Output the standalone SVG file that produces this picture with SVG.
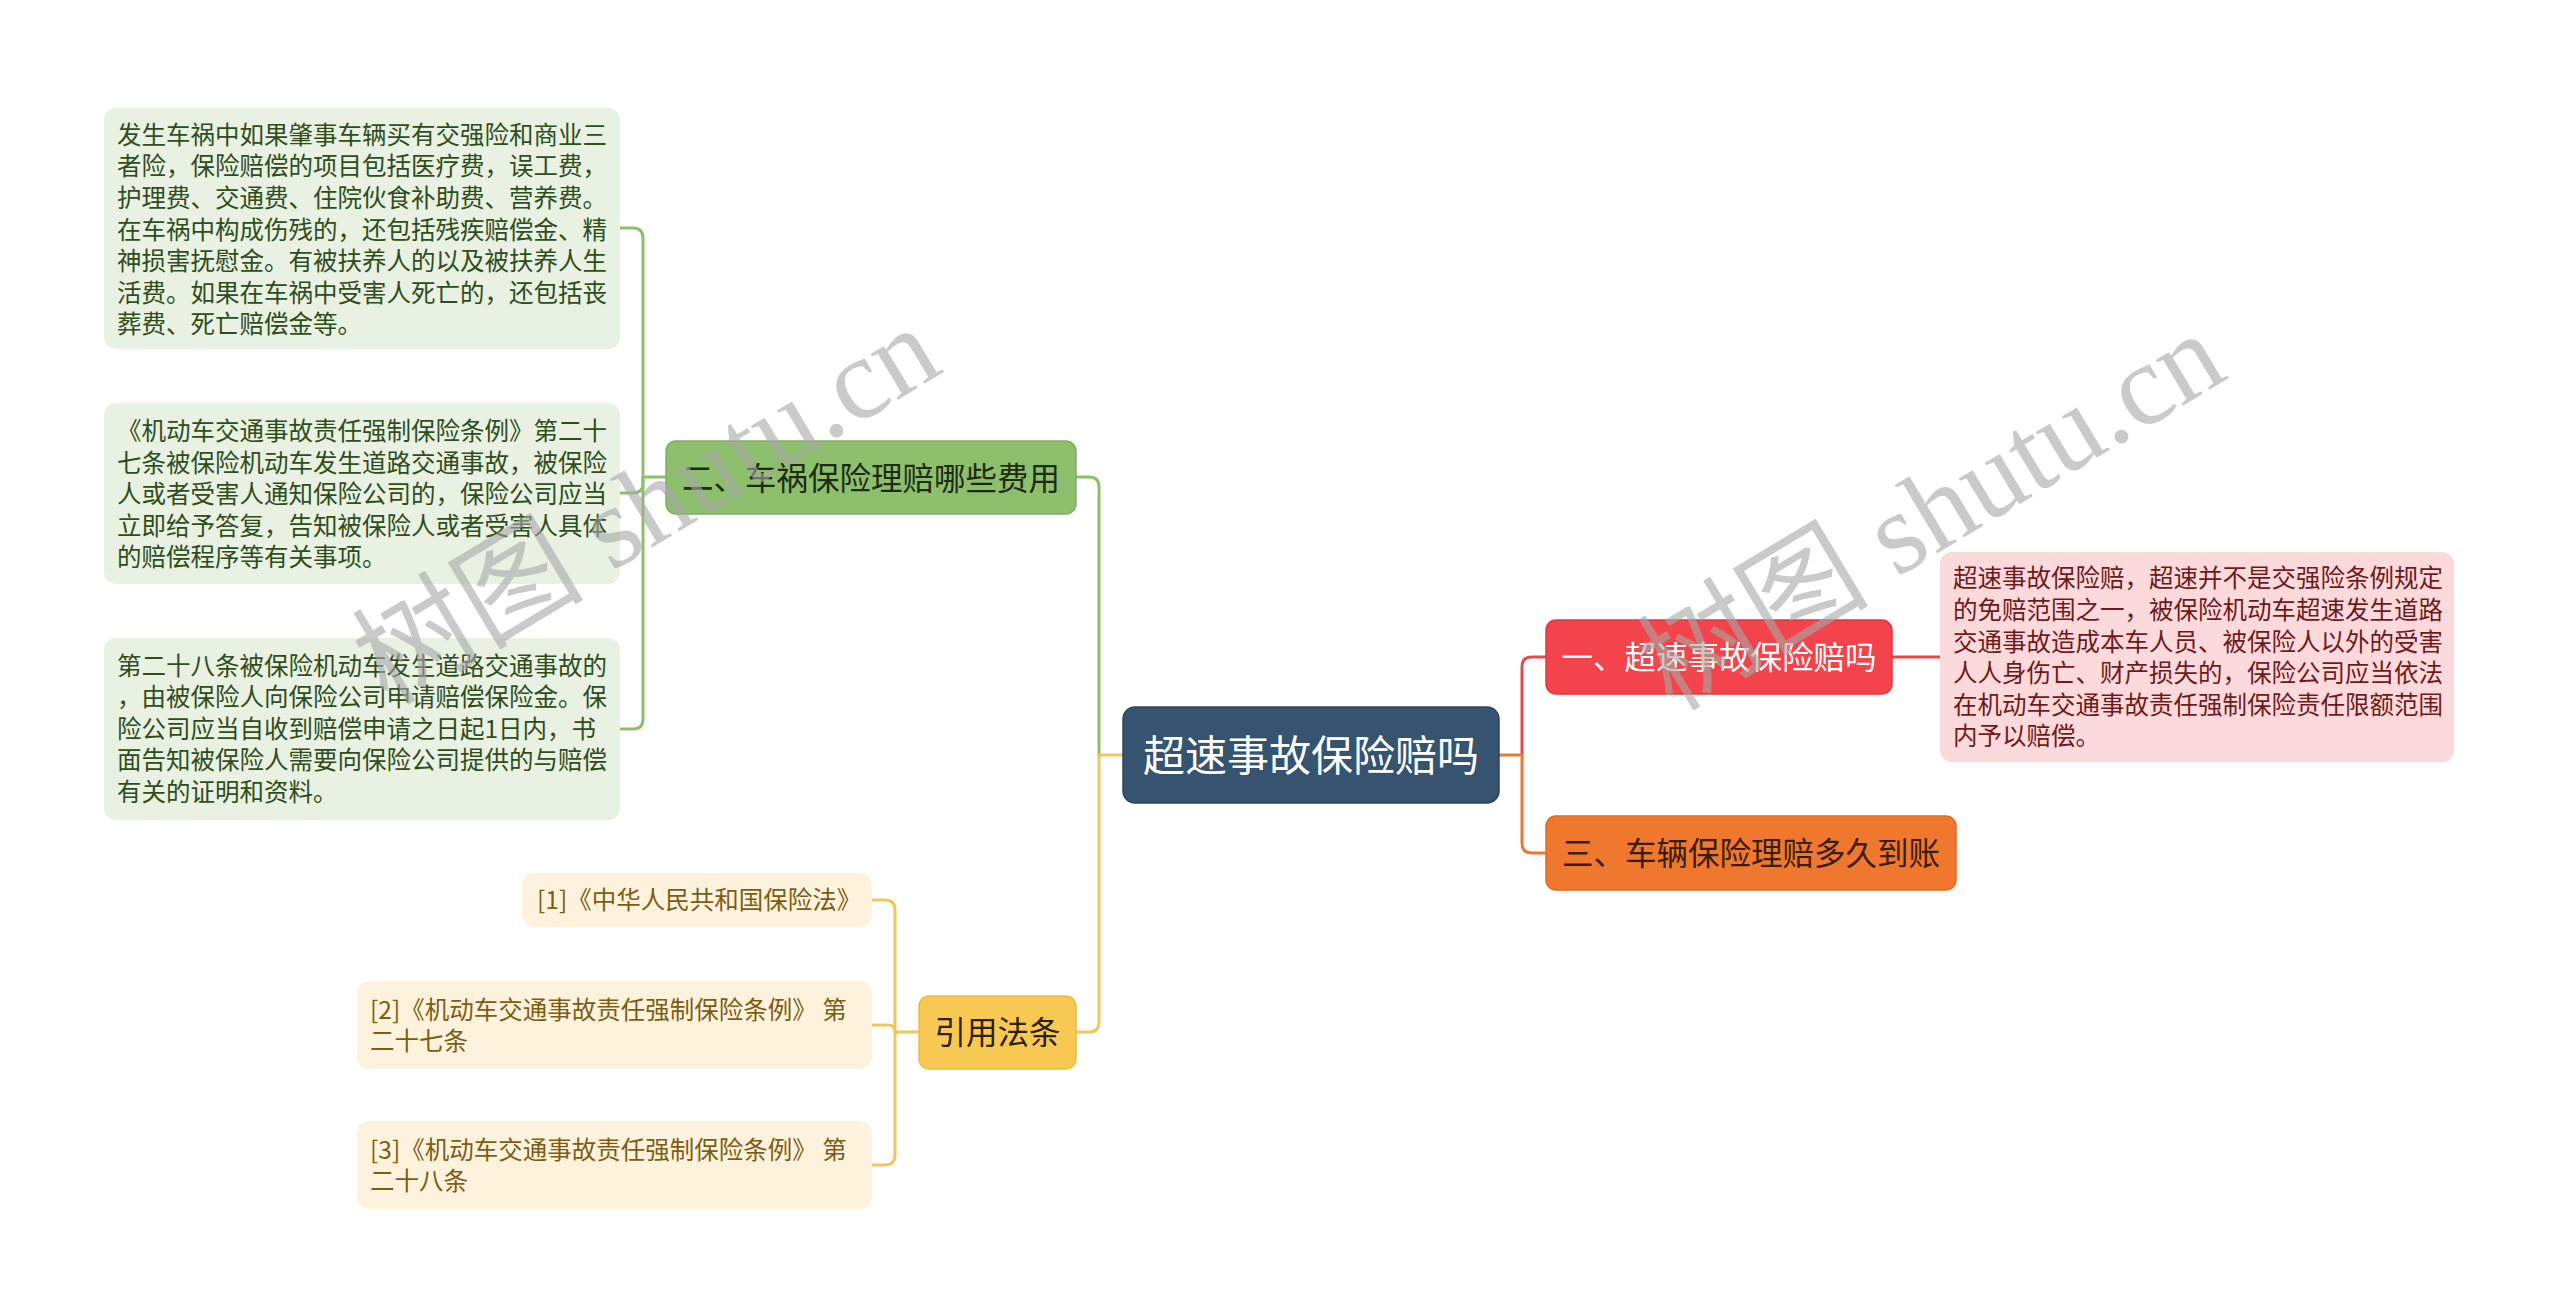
<svg xmlns="http://www.w3.org/2000/svg" width="2560" height="1315" viewBox="0 0 2560 1315">
<style>
text{font-family:"Noto Sans CJK SC","Liberation Sans",sans-serif;}
.sub{font-size:24.5px;}
.main{font-size:31.5px;text-anchor:middle;}
.root{font-size:42px;text-anchor:middle;fill:#ffffff;}
.ln{fill:none;stroke-width:3;stroke-linecap:round;stroke-linejoin:round;}
.wm{font-family:"Liberation Serif","Noto Sans CJK SC",serif;font-size:116px;fill:#a8a8a8;opacity:0.6;text-anchor:middle;}
</style>
<rect width="2560" height="1315" fill="#ffffff"/>
<g id="connectors">
  <path class="ln" stroke="#8dbf6d" d="M1099,755 V487 Q1099,477 1089,477 H1076"/>
  <path class="ln" stroke="#f1c65a" d="M1123,755 H1099 V1022 Q1099,1032 1089,1032 H1076"/>
  <path class="ln" stroke="#e8484a" d="M1522,755 V667 Q1522,657 1532,657 H1546"/>
  <path class="ln" stroke="#ec7836" d="M1499,755 H1522 V843 Q1522,853 1532,853 H1546"/>
  <path class="ln" stroke="#e8484a" d="M1892,657 H1940"/>
  <path class="ln" stroke="#8dbf6d" d="M666,477 H643 V238 Q643,228 633,228 H620"/>
  <path class="ln" stroke="#8dbf6d" d="M643,477 V483 Q643,493 633,493 H620"/>
  <path class="ln" stroke="#8dbf6d" d="M643,477 V719 Q643,729 633,729 H620"/>
  <path class="ln" stroke="#f1c65a" d="M919,1032 H895 V910 Q895,900 885,900 H872"/>
  <path class="ln" stroke="#f1c65a" d="M895,1032 Q895,1025 888,1025 H872"/>
  <path class="ln" stroke="#f1c65a" d="M895,1032 V1155 Q895,1165 885,1165 H872"/>
</g>
<g id="root">
  <rect x="1123" y="707" width="376" height="96" rx="12" fill="#36536f" stroke="#2c4560" stroke-width="1.5"/>
  <text class="root" x="1311" y="771">超速事故保险赔吗</text>
</g>
<g id="n-green">
  <rect x="666" y="441" width="410" height="73" rx="10" fill="#8dbf6d" stroke="#7fb05f" stroke-width="1.5"/>
  <text class="main" x="871" y="489.5" fill="#1d2b12">二、车祸保险理赔哪些费用</text>
</g>
<g id="n-red">
  <rect x="1546" y="620" width="346" height="74" rx="10" fill="#f2444a" stroke="#dc3a40" stroke-width="1.5"/>
  <text class="main" x="1719" y="669" fill="#ffffff">一、超速事故保险赔吗</text>
</g>
<g id="n-orange">
  <rect x="1546" y="816" width="410" height="74" rx="10" fill="#f0782e" stroke="#de6b24" stroke-width="1.5"/>
  <text class="main" x="1751" y="865" fill="#3a1d08">三、车辆保险理赔多久到账</text>
</g>
<g id="n-yellow">
  <rect x="919" y="996" width="157" height="73" rx="10" fill="#f7c852" stroke="#ecbb45" stroke-width="1.5"/>
  <text class="main" x="997.5" y="1044" fill="#2b2108">引用法条</text>
</g>
<g id="g-detail-1">
  <rect x="104" y="108" width="516" height="241" rx="12" fill="#e9f1e2"/>
  <text class="sub" x="117" y="143.8" fill="#2f4d1c">
    <tspan x="117">发生车祸中如果肇事车辆买有交强险和商业三</tspan>
    <tspan x="117" dy="31.6">者险，保险赔偿的项目包括医疗费，误工费，</tspan>
    <tspan x="117" dy="31.6">护理费、交通费、住院伙食补助费、营养费。</tspan>
    <tspan x="117" dy="31.6">在车祸中构成伤残的，还包括残疾赔偿金、精</tspan>
    <tspan x="117" dy="31.6">神损害抚慰金。有被扶养人的以及被扶养人生</tspan>
    <tspan x="117" dy="31.6">活费。如果在车祸中受害人死亡的，还包括丧</tspan>
    <tspan x="117" dy="31.6">葬费、死亡赔偿金等。</tspan>
  </text>
</g>
<g id="g-detail-2">
  <rect x="104" y="403" width="516" height="181" rx="12" fill="#e9f1e2"/>
  <text class="sub" x="117" y="440" fill="#2f4d1c">
    <tspan x="117">《机动车交通事故责任强制保险条例》第二十</tspan>
    <tspan x="117" dy="31.6">七条被保险机动车发生道路交通事故，被保险</tspan>
    <tspan x="117" dy="31.6">人或者受害人通知保险公司的，保险公司应当</tspan>
    <tspan x="117" dy="31.6">立即给予答复，告知被保险人或者受害人具体</tspan>
    <tspan x="117" dy="31.6">的赔偿程序等有关事项。</tspan>
  </text>
</g>
<g id="g-detail-3">
  <rect x="104" y="638" width="516" height="182" rx="12" fill="#e9f1e2"/>
  <text class="sub" x="117" y="674.5" fill="#2f4d1c">
    <tspan x="117">第二十八条被保险机动车发生道路交通事故的</tspan>
    <tspan x="117" dy="31.6">，由被保险人向保险公司申请赔偿保险金。保</tspan>
    <tspan x="117" dy="31.6">险公司应当自收到赔偿申请之日起1日内，书</tspan>
    <tspan x="117" dy="31.6">面告知被保险人需要向保险公司提供的与赔偿</tspan>
    <tspan x="117" dy="31.6">有关的证明和资料。</tspan>
  </text>
</g>
<g id="r-detail">
  <rect x="1940" y="552" width="514" height="210" rx="12" fill="#fcd9db"/>
  <text class="sub" x="1953" y="587.3" fill="#6e1a1c">
    <tspan x="1953">超速事故保险赔，超速并不是交强险条例规定</tspan>
    <tspan x="1953" dy="31.6">的免赔范围之一，被保险机动车超速发生道路</tspan>
    <tspan x="1953" dy="31.6">交通事故造成本车人员、被保险人以外的受害</tspan>
    <tspan x="1953" dy="31.6">人人身伤亡、财产损失的，保险公司应当依法</tspan>
    <tspan x="1953" dy="31.6">在机动车交通事故责任强制保险责任限额范围</tspan>
    <tspan x="1953" dy="31.6">内予以赔偿。</tspan>
  </text>
</g>
<g id="y-ref-1">
  <rect x="522" y="873" width="350" height="54" rx="12" fill="#fdf3dd"/>
  <text class="sub" x="537" y="909.3" fill="#7d5c14">[1]《中华人民共和国保险法》</text>
</g>
<g id="y-ref-2">
  <rect x="357" y="981" width="515" height="88" rx="12" fill="#fdf3dd"/>
  <text class="sub" x="370" y="1019.3" fill="#7d5c14">
    <tspan x="370">[2]《机动车交通事故责任强制保险条例》 第</tspan>
    <tspan x="370" dy="31">二十七条</tspan>
  </text>
</g>
<g id="y-ref-3">
  <rect x="357" y="1121" width="515" height="88" rx="12" fill="#fdf3dd"/>
  <text class="sub" x="370" y="1159.3" fill="#7d5c14">
    <tspan x="370">[3]《机动车交通事故责任强制保险条例》 第</tspan>
    <tspan x="370" dy="31">二十八条</tspan>
  </text>
</g>
<g id="watermarks">
  <text class="wm" transform="translate(648,508) rotate(-31)" x="0" y="36">树图 shutu.cn</text>
  <text class="wm" transform="translate(1933,514) rotate(-31)" x="0" y="36">树图 shutu.cn</text>
</g>
</svg>
